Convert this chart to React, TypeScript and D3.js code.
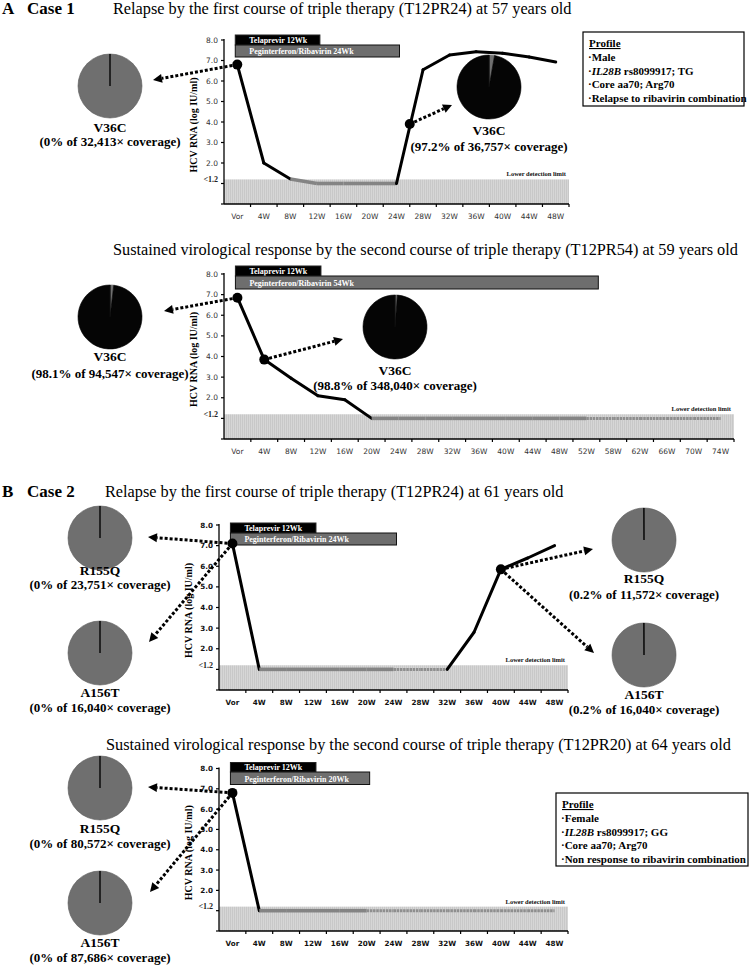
import React from 'react'
import * as d3 from 'd3'

// x categories
const weeks48 = ['Vor', '4W', '8W', '12W', '16W', '20W', '24W', '28W', '32W', '36W', '40W', '44W', '48W']
const weeks74 = ['Vor', '4W', '8W', '12W', '16W', '20W', '24W', '28W', '32W', '36W', '40W', '44W', '48W', '52W', '58W', '62W', '66W', '70W', '74W']

// HCV RNA (log IU/ml), undetectable plotted at 1.0
const case1Relapse = [6.8, 2.0, 1.22, 1.0, 1.0, 1.0, 1.0, 6.55, 7.27, 7.43, 7.35, 7.17, 6.93]
const case1Svr = [6.85, 3.85, 2.95, 2.1, 1.9, 1.0, 1.0, 1.0, 1.0, 1.0, 1.0, 1.0, 1.0, 1.0, 1.0, 1.0, 1.0, 1.0, 1.0]
const case2Relapse = [7.1, 1.0, 1.0, 1.0, 1.0, 1.0, 1.0, 1.0, 1.0, 2.8, 5.85, 6.4, 7.0]
const case2Svr = [6.8, 1.0, 1.0, 1.0, 1.0, 1.0, 1.0, 1.0, 1.0, 1.0, 1.0, 1.0, 1.0]

// sequenced samples (week, value)
const case1RelapseSampleWeeks = [0, 26]
const case1RelapseSampleValues = [6.8, 3.9]
const case1SvrSampleWeeks = [0, 4]
const case1SvrSampleValues = [6.85, 3.85]
const case2RelapseSampleWeeks = [0, 40]
const case2RelapseSampleValues = [7.1, 5.85]
const case2SvrSampleWeeks = [0]
const case2SvrSampleValues = [6.8]

// variant frequency (%) and read coverage for each pie
const case1RelapseVariants = ['V36C', 'V36C']
const case1RelapseFreq = [0, 97.2]
const case1RelapseCoverage = ['32,413', '36,757']
const case1SvrVariants = ['V36C', 'V36C']
const case1SvrFreq = [98.1, 98.8]
const case1SvrCoverage = ['94,547', '348,040']
const case2RelapseVariants = ['R155Q', 'A156T', 'R155Q', 'A156T']
const case2RelapseFreq = [0, 0, 0.2, 0.2]
const case2RelapseCoverage = ['23,751', '16,040', '11,572', '16,040']
const case2SvrVariants = ['R155Q', 'A156T']
const case2SvrFreq = [0, 0]
const case2SvrCoverage = ['80,572', '87,686']

const yTickValues = [1, 2, 3, 4, 5, 6, 7, 8]
const yTickLabels = ['<1.2', '2.0', '3.0', '4.0', '5.0', '6.0', '7.0', '8.0']
const detectionLimit = 1.2

const profileCase1 = ['Male', 'IL28B rs8099917; TG', 'Core aa70; Arg70', 'Relapse to ribavirin combination']
const profileCase2 = ['Female', 'IL28B rs8099917; GG', 'Core aa70; Arg70', 'Non response to ribavirin combination']

const serif = '"Liberation Serif", "Times New Roman", serif'
const sans = '"DejaVu Sans", Verdana, sans-serif'

function Arrow({ x1, y1, x2, y2 }) {
  const a = Math.atan2(y2 - y1, x2 - x1)
  const head = 9
  const hw = 4.5
  const bx = x2 - head * Math.cos(a)
  const by = y2 - head * Math.sin(a)
  const px = -Math.sin(a) * hw
  const py = Math.cos(a) * hw
  return (
    <g>
      <line x1={x1} y1={y1} x2={bx} y2={by} stroke="#000" strokeWidth={3} strokeDasharray="3 2" />
      <path d={`M${x2},${y2}L${bx + px},${by + py}L${bx - px},${by - py}Z`} fill="#000" />
    </g>
  )
}

function Pie({ cx, cy, r, freq }) {
  const arcs = d3.pie().sort(null)([100 - freq, freq])
  const arc = d3.arc().innerRadius(0).outerRadius(r)
  return (
    <g transform={`translate(${cx},${cy})`}>
      {arcs.map((d, i) => (
        <path key={i} d={arc(d)} fill={i === 0 ? '#6f6f6f' : '#050505'} stroke={i === 0 ? '#5a5a5a' : '#000'} strokeWidth={0.6} />
      ))}
      <line x1={0} y1={0} x2={0} y2={-r} stroke="#111" strokeWidth={1} />
    </g>
  )
}

function Profile({ x, y, w, h, lines }) {
  return (
    <g fontFamily={serif} fontWeight="bold" fontSize={11}>
      <rect x={x} y={y} width={w} height={h} fill="#fff" stroke="#000" strokeWidth={1.2} />
      <text x={x + 6} y={y + 15} textDecoration="underline">Profile</text>
      {lines.map((l, i) => {
        const italic = l.startsWith('IL28B')
        return (
          <text key={i} x={x + 5} y={y + 29 + i * 13.5}>
            {'·'}
            {italic ? <tspan fontStyle="italic">IL28B</tspan> : null}
            {italic ? l.slice(5) : l}
          </text>
        )
      })}
    </g>
  )
}

function Panel({ cfg }) {
  const { cats, values, x0, x1, y0, y8, bold, teleTop, teleH, prTop, prH, prWeeks, sampleWeeks, sampleValues, pies } = cfg
  const x = d3.scaleBand().domain(cats).range([x0, x1])
  const bw = x.bandwidth()
  const cx = (c) => x(c) + bw / 2
  const weekNums = cats.map((c) => (c === 'Vor' ? 0 : parseInt(c)))
  const wx = d3.scaleLinear().domain(weekNums).range(cats.map(cx))
  const y = d3.scaleLinear().domain([0, 8]).range([y0, y8])

  // one path per segment so undetectable stretches can be gray
  const seg = (i) => d3.line().x((d, j) => cx(cats[i + j])).y((d) => y(d))([values[i], values[i + 1]])
  const segs = d3.range(values.length - 1).map((i) => ({
    i,
    gray: values[i] <= 1.25 && values[i + 1] <= 1.25,
    onTreatment: weekNums[i + 1] <= prWeeks,
  }))

  const tickFont = bold ? { fontWeight: 'bold', fontSize: 7.2, fill: '#111' } : { fontSize: 7.5, fill: '#333' }
  const barStart = wx(0) - 2

  return (
    <g>
      {/* header and title */}
      {cfg.letter && (
        <g fontFamily={serif} fontWeight="bold" fontSize={17}>
          <text x={2} y={cfg.ty}>{cfg.letter}</text>
          <text x={27} y={cfg.ty}>{cfg.caseName}</text>
        </g>
      )}
      <text x={cfg.tx} y={cfg.ty} fontFamily={serif} fontSize={16.3}>{cfg.title}</text>

      {/* lower detection band */}
      <rect x={x0} y={y(detectionLimit)} width={x1 - x0} height={y(0) - y(detectionLimit)} fill="url(#hatch)" />
      <text x={x1 - 3} y={y(detectionLimit) - 3} textAnchor="end" fontFamily={serif} fontWeight="bold" fontSize={6.5} fill="#111">Lower detection limit</text>

      {/* treatment bars */}
      <rect x={barStart} y={teleTop} width={wx(12) + 3 - barStart} height={teleH} fill="#000" stroke="#222" strokeWidth={1} />
      <text x={barStart + 14} y={teleTop + teleH - 2.5} fill="#fff" fontFamily={serif} fontWeight="bold" fontSize={8}>Telaprevir 12Wk</text>
      <rect x={barStart} y={prTop} width={wx(prWeeks) + 3 - barStart} height={prH} fill="#6e6e6e" stroke="#111" strokeWidth={1} />
      <text x={barStart + 14} y={prTop + prH - 3} fill="#fff" fontFamily={serif} fontWeight="bold" fontSize={8}>{`Peginterferon/Ribavirin ${prWeeks}Wk`}</text>

      {/* axes */}
      <line x1={x0} y1={y(0)} x2={x0} y2={y(8) - 1} stroke="#000" strokeWidth={1.3} />
      <line x1={x0} y1={y(0)} x2={x1} y2={y(0)} stroke="#000" strokeWidth={1.3} />
      {[0, ...yTickValues].map((v) => (
        <line key={v} x1={x0 - 3} x2={x0} y1={y(v)} y2={y(v)} stroke="#000" strokeWidth={1.2} />
      ))}
      {yTickValues.map((v, i) => (
        i === 0
          ? <text key={v} x={x0 - 6} y={y(detectionLimit) + 2.5} textAnchor="end" fontFamily={serif} fontWeight="bold" fontSize={8} fill="#222">{yTickLabels[i]}</text>
          : <text key={v} x={x0 - 6} y={y(v) + 2.6} textAnchor="end" fontFamily={sans} {...tickFont}>{yTickLabels[i]}</text>
      ))}
      {cats.map((c, i) => (
        <line key={c} x1={x0 + (i + 1) * bw} x2={x0 + (i + 1) * bw} y1={y(0)} y2={y(0) + 3} stroke="#000" strokeWidth={1.2} />
      ))}
      {cats.map((c) => (
        <text key={c} x={cx(c)} y={y(0) + 14.5} textAnchor="middle" fontFamily={sans} {...tickFont}>{c}</text>
      ))}
      <text transform={`translate(${x0 - 27},${(y0 + y8) / 2 + 3}) rotate(-90)`} textAnchor="middle" fontFamily={serif} fontWeight="bold" fontSize={10}>HCV RNA (log IU/ml)</text>

      {/* viral load */}
      {segs.map((s) => s.gray
        ? <path key={s.i} d={seg(s.i)} fill="none" stroke={s.onTreatment ? '#848484' : '#8e8e8e'} strokeWidth={s.onTreatment ? 3.6 : 3} strokeDasharray={s.onTreatment ? null : '2.5 0.7'} />
        : <path key={s.i} d={seg(s.i)} fill="none" stroke="#000" strokeWidth={3} strokeLinecap="round" />
      )}

      {/* sequenced samples */}
      {pies.map((p, i) => (
        <Arrow key={i} x1={wx(sampleWeeks[p.from])} y1={y(sampleValues[p.from])} x2={p.tip[0]} y2={p.tip[1]} />
      ))}
      {sampleWeeks.map((w, i) => (
        <circle key={i} cx={wx(w)} cy={y(sampleValues[i])} r={5} fill="#000" />
      ))}
      {pies.map((p, i) => (
        <g key={i}>
          <Pie cx={p.cx} cy={p.cy} r={32} freq={cfg.freq[i]} />
          <text x={p.cx} y={p.nameY} textAnchor="middle" fontFamily={serif} fontWeight="bold" fontSize={13.5}>{cfg.variants[i]}</text>
          <text x={p.cx} y={p.covY} textAnchor="middle" fontFamily={serif} fontWeight="bold" fontSize={13}>{`(${cfg.freq[i]}% of ${cfg.coverage[i]}× coverage)`}</text>
        </g>
      ))}
      {cfg.profile && <Profile {...cfg.profile} />}
    </g>
  )
}

const panels = [
  {
    letter: 'A', caseName: 'Case 1', tx: 113, ty: 14,
    title: 'Relapse by the first course of triple therapy (T12PR24) at 57 years old',
    cats: weeks48, values: case1Relapse, x0: 224, x1: 569, y0: 204, y8: 40,
    teleTop: 35, teleH: 10, prTop: 45, prH: 12, prWeeks: 24,
    sampleWeeks: case1RelapseSampleWeeks, sampleValues: case1RelapseSampleValues,
    variants: case1RelapseVariants, freq: case1RelapseFreq, coverage: case1RelapseCoverage,
    pies: [
      { cx: 110, cy: 86, nameY: 131.5, covY: 145.5, from: 0, tip: [153, 80] },
      { cx: 489, cy: 87, nameY: 135, covY: 151, from: 1, tip: [452, 105] },
    ],
    profile: { x: 583, y: 32, w: 161, h: 74, lines: profileCase1 },
  },
  {
    tx: 113, ty: 255,
    title: 'Sustained virological response by the second course of triple therapy (T12PR54) at 59 years old',
    cats: weeks74, values: case1Svr, x0: 224, x1: 734, y0: 439, y8: 274,
    teleTop: 266, teleH: 10, prTop: 276, prH: 13, prWeeks: 54,
    sampleWeeks: case1SvrSampleWeeks, sampleValues: case1SvrSampleValues,
    variants: case1SvrVariants, freq: case1SvrFreq, coverage: case1SvrCoverage,
    pies: [
      { cx: 110, cy: 317, nameY: 361, covY: 378, from: 0, tip: [164, 311] },
      { cx: 395, cy: 327, nameY: 374.5, covY: 390, from: 1, tip: [343, 339] },
    ],
  },
  {
    letter: 'B', caseName: 'Case 2', tx: 105, ty: 497, bold: true,
    title: 'Relapse by the first course of triple therapy (T12PR24) at 61 years old',
    cats: weeks48, values: case2Relapse, x0: 219, x1: 568, y0: 690, y8: 525,
    teleTop: 523, teleH: 10, prTop: 533, prH: 12, prWeeks: 24,
    sampleWeeks: case2RelapseSampleWeeks, sampleValues: case2RelapseSampleValues,
    variants: case2RelapseVariants, freq: case2RelapseFreq, coverage: case2RelapseCoverage,
    pies: [
      { cx: 100, cy: 538, nameY: 574.5, covY: 589, from: 0, tip: [148, 537] },
      { cx: 100, cy: 653, nameY: 697, covY: 712, from: 0, tip: [149, 642] },
      { cx: 644, cy: 540, nameY: 583, covY: 598.5, from: 1, tip: [593, 549] },
      { cx: 644, cy: 655, nameY: 698.5, covY: 714, from: 1, tip: [594, 653] },
    ],
  },
  {
    tx: 106, ty: 750, bold: true,
    title: 'Sustained virological response by the second course of triple therapy (T12PR20) at 64 years old',
    cats: weeks48, values: case2Svr, x0: 219, x1: 568, y0: 931, y8: 768.5,
    teleTop: 762.5, teleH: 9.5, prTop: 772, prH: 12.5, prWeeks: 20,
    sampleWeeks: case2SvrSampleWeeks, sampleValues: case2SvrSampleValues,
    variants: case2SvrVariants, freq: case2SvrFreq, coverage: case2SvrCoverage,
    pies: [
      { cx: 100, cy: 788, nameY: 833, covY: 848, from: 0, tip: [148, 787] },
      { cx: 100, cy: 903, nameY: 947, covY: 962, from: 0, tip: [150, 892] },
    ],
    profile: { x: 556, y: 793, w: 192, h: 73, lines: profileCase2 },
  },
]

export default function App() {
  return (
    <svg width={754} height={965} style={{ position: 'absolute', left: 0, top: 0, background: '#fff' }}>
      <defs>
        <pattern id="hatch" width={2} height={4} patternUnits="userSpaceOnUse">
          <rect width={2} height={4} fill="#d6d6d6" />
          <rect width={1} height={4} fill="#c8c8c8" />
        </pattern>
      </defs>
      <rect width={754} height={965} fill="#fff" />
      {panels.map((p, i) => <Panel key={i} cfg={p} />)}
    </svg>
  )
}
